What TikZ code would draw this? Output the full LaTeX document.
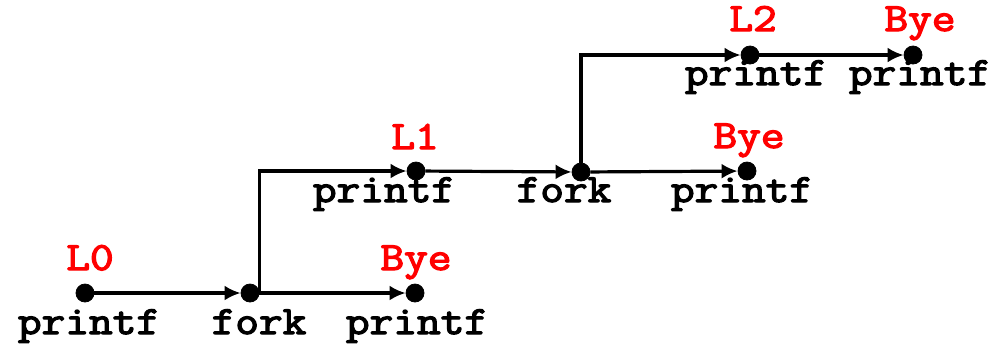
\documentclass[tikz,border=0pt]{standalone}
\usepackage{fontspec}
\setmonofont{Latin Modern Mono}[AutoFakeBold=3]
\usetikzlibrary{arrows.meta}
\tikzset{mydot/.style={draw,fill,circle,minimum size=9pt,inner sep=0pt},
mycall/.style={font=\fontsize{20}{24}\selectfont\ttfamily\bfseries,anchor=base,inner sep=0pt,xscale=1.15,transform shape},
mytag/.style={mycall,text=red},
myarrow/.style={line width=1.6pt,-{Latex[length=8pt,width=7.5pt]}}}

\begin{document}
\begin{tikzpicture}[x=.5pt,y=-.5pt]
\useasboundingbox (0,0) rectangle (1006,345);
% points of the three processes
\node[mydot] (l0) at (85,293){};
\node[mydot] (f0) at (250,293){};
\node[mydot] (b0) at (415,293){};
\node[mydot] (l1) at (416,171){};
\node[mydot] (f1) at (581,172){};
\node[mydot] (b1) at (747,171){};
\node[mydot] (l2) at (750,55){};
\node[mydot] (b2) at (913,55){};
\draw[myarrow] (l0) -- (f0);
\draw[myarrow] (f0) -- (b0);
\draw[myarrow] (f0.east) |- (l1);
\draw[myarrow] (l1) -- (f1);
\draw[myarrow] (f1) -- (b1);
\draw[myarrow] (f1) |- (l2);
\draw[myarrow] (l2) -- (b2);
% calls below, tags above
\node[mycall] (c0) at (89,334){printf};
\node[mycall] (c1) at (259,334){fork};
\node[mycall] (c2) at (417,334){printf};
\node[mycall] (c3) at (384,202){printf};
\node[mycall] (c4) at (564,202){fork};
\node[mycall] (c5) at (742,202){printf};
\node[mycall] (c6) at (756,85){printf};
\node[mycall] (c7) at (920,85){printf};
\node[mytag] (t0) at (90,270){L0};
\node[mytag] (t1) at (416,270){Bye};
\node[mytag] (t2) at (415,149){L1};
\node[mytag] (t3) at (749,148){Bye};
\node[mytag] (t4) at (753,31){L2};
\node[mytag] (t5) at (920,31){Bye};
\end{tikzpicture}
\end{document}
